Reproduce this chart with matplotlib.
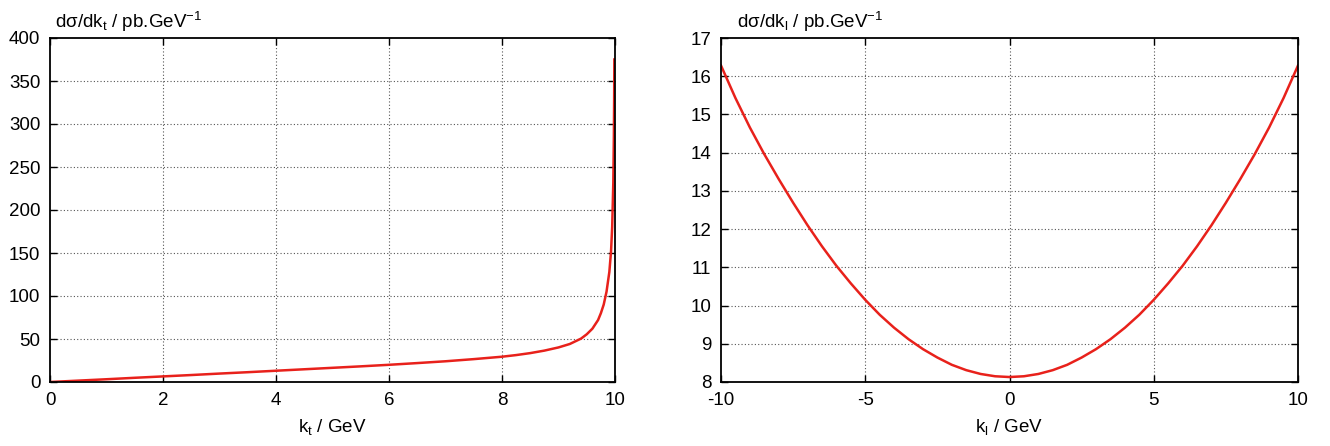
"""Differential cross sections in k_t and k_l (gnuplot-style two-panel figure)."""

import matplotlib

matplotlib.use("Agg")
import matplotlib.pyplot as plt

plt.rcParams["font.family"] = ["Liberation Sans", "DejaVu Sans"]
plt.rcParams["mathtext.default"] = "regular"
plt.rcParams["axes.unicode_minus"] = False

# left panel: dsigma/dk_t
kt = [0, 0.5, 1, 1.5, 2, 2.5, 3, 3.5, 4, 4.5, 5, 5.5, 6, 6.5, 7, 7.5, 8, 8.25,
      8.5, 8.75, 9, 9.2, 9.4, 9.5, 9.6, 9.7, 9.75, 9.8, 9.85, 9.9, 9.93, 9.95,
      9.97, 9.98, 9.985, 9.9885]
dsig_dkt = [0, 1.6, 3.2, 4.9, 6.5, 8.1, 9.8, 11.4, 13.1, 14.8, 16.5, 18.2, 20.0,
            22.0, 24.1, 26.6, 29.4, 31.3, 33.6, 36.5, 40.2, 44.2, 50.5, 55.5, 62,
            72, 80, 90, 105, 128, 152, 180, 232, 285, 329, 375]

# right panel: dsigma/dk_l
kl = [-10, -9.5, -9, -8.5, -8, -7.5, -7, -6.5, -6, -5.5, -5, -4.5, -4, -3.5, -3,
      -2.5, -2, -1.5, -1, -0.5, 0, 0.5, 1, 1.5, 2, 2.5, 3, 3.5, 4, 4.5, 5, 5.5,
      6, 6.5, 7, 7.5, 8, 8.5, 9, 9.5, 10]
dsig_dkl = [16.28, 15.43, 14.66, 13.96, 13.31, 12.69, 12.10, 11.55, 11.04, 10.58,
            10.15, 9.76, 9.42, 9.12, 8.86, 8.64, 8.45, 8.31, 8.21, 8.15, 8.13,
            8.15, 8.21, 8.31, 8.45, 8.64, 8.86, 9.12, 9.42, 9.76, 10.15, 10.58,
            11.04, 11.55, 12.10, 12.69, 13.31, 13.96, 14.66, 15.43, 16.28]

RED = "#e8211b"
W, H = 1330, 446
FS = 13.5


def style_axes(ax, xticks, yticks, xgrid):
    ax.set_xticks(xticks)
    ax.set_yticks(yticks)
    ax.tick_params(direction="in", length=5, width=1.0, top=True, right=True,
                   labelsize=FS, pad=7)
    for s in ax.spines.values():
        s.set_linewidth(1.3)
    for x in xgrid:
        ax.axvline(x, color="#555555", lw=0.8, ls=(0, (1, 2)), zorder=0)
    for y in yticks[1:-1]:
        ax.axhline(y, color="#555555", lw=0.8, ls=(0, (1, 2)), zorder=0)


fig = plt.figure(figsize=(W / 100, H / 100), dpi=100)

ax1 = fig.add_axes([50 / W, 1 - 382 / H, 565 / W, 344 / H])
ax1.plot(kt, dsig_dkt, color=RED, lw=1.8)
ax1.set_xlim(0, 10)
ax1.set_ylim(0, 400)
style_axes(ax1, [0, 2, 4, 6, 8, 10], list(range(0, 401, 50)), [2, 4, 6, 8])
ax1.set_xlabel("k$_t$ / GeV", fontsize=FS, labelpad=6)
fig.text(55 / W, 1 - 22 / H, "dσ/dk$_t$ / pb.GeV$^{-1}$", fontsize=FS,
         ha="left", va="center")

ax2 = fig.add_axes([721 / W, 1 - 382 / H, 577 / W, 344 / H])
ax2.plot(kl, dsig_dkl, color=RED, lw=1.8)
ax2.set_xlim(-10, 10)
ax2.set_ylim(8, 17)
style_axes(ax2, [-10, -5, 0, 5, 10], list(range(8, 18)), [-5, 0, 5])
ax2.set_xlabel("k$_l$ / GeV", fontsize=FS, labelpad=6)
fig.text(737 / W, 1 - 22 / H, "dσ/dk$_l$ / pb.GeV$^{-1}$", fontsize=FS,
         ha="left", va="center")

fig.savefig("out.png", dpi=100)
